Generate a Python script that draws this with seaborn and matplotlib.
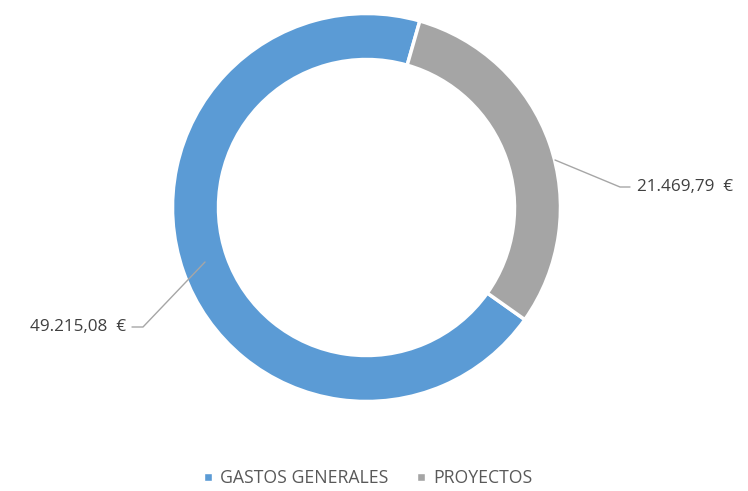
import matplotlib
matplotlib.use("Agg")
import matplotlib.pyplot as plt
import seaborn as sns
from matplotlib.lines import Line2D

categories = ["GASTOS GENERALES", "PROYECTOS"]
values = [49215.08, 21469.79]
value_labels = ["49.215,08  €", "21.469,79  €"]
colors = ["#5B9BD5", "#A5A5A5"]

sns.set_theme(style="white")
plt.rcParams['font.family'] = ['Open Sans', 'DejaVu Sans']
text_color = "#404040"

fig = plt.figure(figsize=(7.48, 4.91), dpi=100)
ax = fig.add_axes([0, 0, 1, 1])

# donut, same layout as the excel chart
wedges, _ = ax.pie(values, colors=colors, center=(366.5, 283.5), radius=194,
                   startangle=-35.3, counterclock=False,
                   wedgeprops=dict(width=46, edgecolor="white", linewidth=2.5))
ax.set_xlim(0, 748)
ax.set_ylim(0, 491)
ax.set_aspect("equal")
ax.axis("off")

# data labels with leader lines
line_kw = dict(color="#A6A6A6", lw=1)
ax.plot([205, 143, 132], [229, 164, 164], **line_kw)
ax.text(126, 164, value_labels[0], ha="right", va="center", fontsize=12.3, color=text_color)
ax.plot([555, 620, 630], [331, 304, 304], **line_kw)
ax.text(637, 304, value_labels[1], ha="left", va="center", fontsize=12.3, color=text_color)

handles = [Line2D([0], [0], marker="s", color="w", markerfacecolor=c, markersize=6)
           for c in colors]
fig.legend(handles, categories, loc="center", bbox_to_anchor=(0.489, 0.027), ncol=2,
           frameon=False, fontsize=12.7, labelcolor="#595959", handletextpad=0.2,
           columnspacing=1.3, handlelength=1.0)

fig.savefig("out.png", dpi=100)
